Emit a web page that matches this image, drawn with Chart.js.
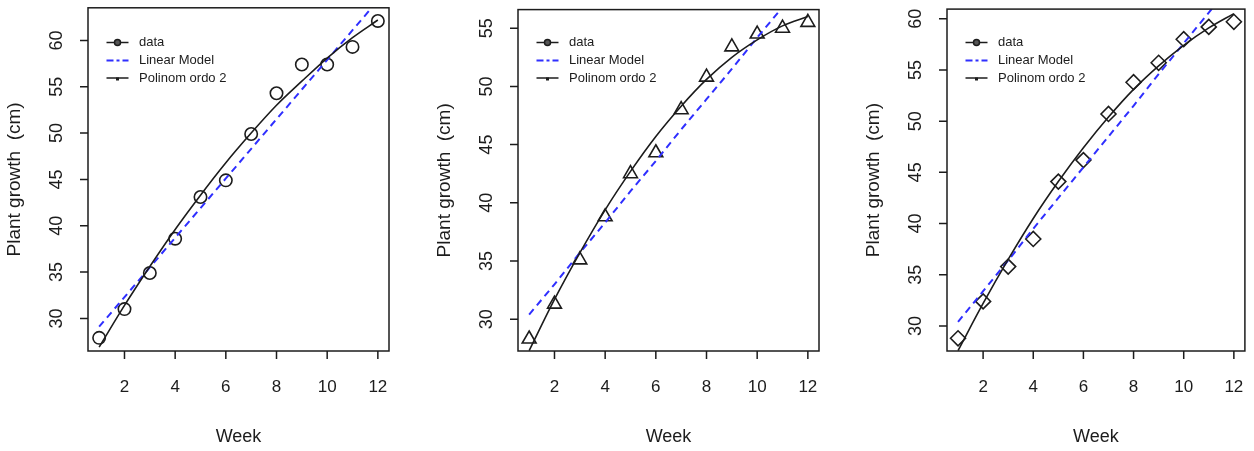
<!DOCTYPE html>
<html>
<head>
<meta charset="utf-8">
<script src="https://cdn.jsdelivr.net/npm/chart.js@4.4.1/dist/chart.umd.min.js"></script>
<style>
  html, body { margin: 0; padding: 0; background: #fff; }
  #wrap { position: relative; width: 1254px; height: 451px; overflow: hidden; }
  canvas { position: absolute; top: 0; }
</style>
</head>
<body>
<div id="wrap">
  <canvas id="c1" width="418" height="451" style="left:0px"></canvas>
  <canvas id="c2" width="418" height="451" style="left:418px"></canvas>
  <canvas id="c3" width="418" height="451" style="left:836px"></canvas>
</div>
<script>
// data
const weeks = [1, 2, 3, 4, 5, 6, 7, 8, 9, 10, 11, 12];

const growth1 = [27.9, 31.0, 34.9, 38.6, 43.1, 44.9, 49.9, 54.3, 57.4, 57.4, 59.3, 62.1];
const linear1 = [29.1, 32.3, 35.5, 38.7, 41.9, 45.1, 48.3, 51.5, 54.7, 57.9, 61.1, 64.3];
const poly1   = [26.9, 31.4, 35.6, 39.6, 43.3, 46.8, 50.0, 53.0, 55.6, 58.1, 60.3, 62.2];

const growth2 = [28.3, 31.3, 35.1, 38.8, 42.5, 44.3, 48.0, 50.8, 53.4, 54.5, 55.0, 55.5];
const linear2 = [30.4, 33.0, 35.7, 38.3, 41.0, 43.6, 46.3, 48.9, 51.5, 54.2, 56.8, 59.5];
const poly2   = [27.3, 31.7, 35.7, 39.4, 42.7, 45.7, 48.3, 50.6, 52.5, 54.0, 55.2, 56.0];

const growth3 = [28.8, 32.4, 35.8, 38.5, 44.1, 46.2, 50.7, 53.8, 55.7, 58.0, 59.2, 59.7];
const linear3 = [30.4, 33.4, 36.4, 39.5, 42.5, 45.5, 48.5, 51.5, 54.6, 57.6, 60.6, 63.6];
const poly3   = [27.6, 32.2, 36.5, 40.5, 44.1, 47.4, 50.4, 53.1, 55.4, 57.4, 59.1, 60.5];

const xTicks = [2, 4, 6, 8, 10, 12];
const yTicks1 = [30, 35, 40, 45, 50, 55, 60];
const yTicks2 = [30, 35, 40, 45, 50, 55];
const yTicks3 = [30, 35, 40, 45, 50, 55, 60];

const legendLabels = ['data', 'Linear Model', 'Polinom ordo 2'];
const xTitle = 'Week';
const yTitle = 'Plant growth  (cm)';

const FONT = '"Liberation Sans", Arial, Helvetica, sans-serif';
const INK = '#1c1c1c';
const BLUE = '#2f2fff';

function pts(ys) {
  return weeks.map((w, i) => ({ x: w, y: ys[i] }));
}

// R-like box, axes, titles and legend
const rStyle = {
  id: 'rStyle',
  afterDatasetsDraw(chart) {
    const { ctx, chartArea: a, scales: { x, y } } = chart;
    ctx.save();
    ctx.strokeStyle = INK;
    ctx.fillStyle = INK;
    ctx.lineWidth = 1.5;
    ctx.strokeRect(a.left, a.top, a.right - a.left, a.bottom - a.top);

    // x axis ticks + labels
    ctx.beginPath();
    x.ticks.forEach(t => {
      const px = x.getPixelForValue(t.value);
      ctx.moveTo(px, a.bottom);
      ctx.lineTo(px, a.bottom + 8);
    });
    y.ticks.forEach(t => {
      const py = y.getPixelForValue(t.value);
      ctx.moveTo(a.left, py);
      ctx.lineTo(a.left - 8, py);
    });
    ctx.stroke();

    ctx.textAlign = 'center';
    ctx.textBaseline = 'middle';
    ctx.font = '17px ' + FONT;
    x.ticks.forEach(t => {
      ctx.fillText(String(t.value), x.getPixelForValue(t.value), 387);
    });
    ctx.font = '18px ' + FONT;
    y.ticks.forEach(t => {
      ctx.save();
      ctx.translate(a.left - 31, y.getPixelForValue(t.value));
      ctx.rotate(-Math.PI / 2);
      ctx.fillText(String(t.value), 0, 0);
      ctx.restore();
    });

    // titles
    ctx.font = '18px ' + FONT;
    ctx.fillText(xTitle, (a.left + a.right) / 2, 437);
    ctx.save();
    ctx.translate(a.left - 73, (a.top + a.bottom) / 2);
    ctx.rotate(-Math.PI / 2);
    ctx.font = '19px ' + FONT;
    ctx.fillText(yTitle, 0, 0);
    ctx.restore();

    // legend
    const lx = a.left + 18.5, len = 22, tx = a.left + 51;
    const rows = [42.5, 60.5, 78];
    ctx.font = '13px ' + FONT;
    ctx.textAlign = 'left';
    // data
    ctx.lineWidth = 1.5;
    ctx.beginPath();
    ctx.moveTo(lx, rows[0]); ctx.lineTo(lx + len, rows[0]);
    ctx.stroke();
    ctx.beginPath();
    ctx.arc(lx + len / 2, rows[0], 3, 0, Math.PI * 2);
    ctx.fillStyle = '#555';
    ctx.fill();
    ctx.stroke();
    // linear
    ctx.strokeStyle = BLUE;
    ctx.lineWidth = 2;
    ctx.setLineDash([7, 3, 3, 3]);
    ctx.beginPath();
    ctx.moveTo(lx, rows[1]); ctx.lineTo(lx + len, rows[1]);
    ctx.stroke();
    ctx.setLineDash([]);
    // poly
    ctx.strokeStyle = INK;
    ctx.lineWidth = 1.5;
    ctx.beginPath();
    ctx.moveTo(lx, rows[2]); ctx.lineTo(lx + len, rows[2]);
    ctx.stroke();
    ctx.fillStyle = INK;
    ctx.fillRect(lx + len / 2 - 1.5, rows[2] - 0.5, 3, 3);

    legendLabels.forEach((lab, i) => ctx.fillText(lab, tx, rows[i]));
    ctx.restore();
  }
};

function makePanel(id, growth, linear, poly, yTicks, yMin, yMax, pointStyle, radius, pad) {
  return new Chart(document.getElementById(id), {
    type: 'scatter',
    data: {
      datasets: [
        {
          label: legendLabels[2],
          data: pts(poly),
          showLine: true,
          cubicInterpolationMode: 'monotone',
          borderColor: INK,
          borderWidth: 1.6,
          pointRadius: 0,
          clip: 0
        },
        {
          label: legendLabels[1],
          data: pts(linear),
          showLine: true,
          borderColor: BLUE,
          borderWidth: 2,
          borderDash: [7, 5],
          pointRadius: 0,
          clip: 0
        },
        {
          label: legendLabels[0],
          data: pts(growth),
          showLine: false,
          pointStyle: pointStyle,
          pointRadius: radius,
          pointBorderWidth: 1.6,
          pointBorderColor: INK,
          pointBackgroundColor: 'rgba(0,0,0,0)',
          clip: false
        }
      ]
    },
    options: {
      responsive: false,
      animation: false,
      devicePixelRatio: 1,
      layout: { padding: pad },
      plugins: { legend: { display: false }, tooltip: { enabled: false } },
      scales: {
        x: {
          type: 'linear', display: false, min: 0.56, max: 12.44,
          afterBuildTicks: s => { s.ticks = xTicks.map(v => ({ value: v })); }
        },
        y: {
          type: 'linear', display: false, min: yMin, max: yMax,
          afterBuildTicks: s => { s.ticks = yTicks.map(v => ({ value: v })); }
        }
      }
    },
    plugins: [rStyle]
  });
}

makePanel('c1', growth1, linear1, poly1, yTicks1, 26.48, 63.52, 'circle', 6.2,
  { left: 88, right: 29, top: 7, bottom: 100 });
makePanel('c2', growth2, linear2, poly2, yTicks2, 27.27, 56.6, 'triangle', 8,
  { left: 100, right: 17, top: 7, bottom: 100 });
makePanel('c3', growth3, linear3, poly3, yTicks3, 27.56, 60.94, 'rectRot', 7.5,
  { left: 111, right: 5, top: 7, bottom: 100 });
</script>
</body>
</html>
